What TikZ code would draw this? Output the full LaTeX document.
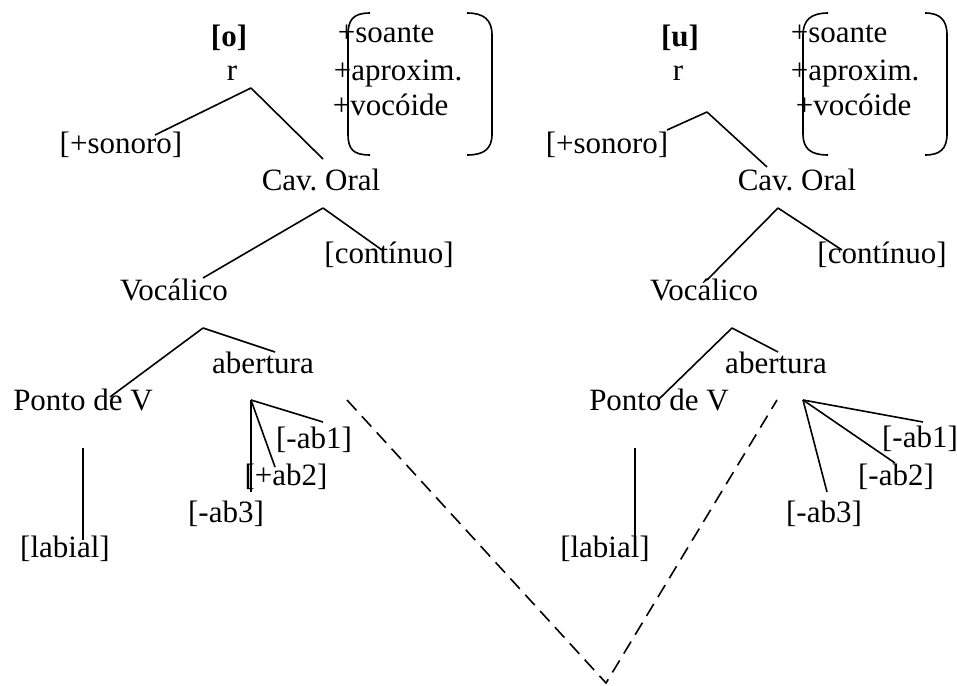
\documentclass[tikz,border=0pt]{standalone}
\usepackage{fontspec}
\setmainfont{Liberation Serif}
\usepackage{tikz}

\begin{document}
\begin{tikzpicture}[x=1pt, y=-1pt, line width=1.6pt,
                        every node/.style={font=\fontsize{31}{37}\selectfont\frenchspacing, inner sep=0pt, anchor=base},
                        lst/.style={anchor=base west},
                        dash line/.style={dash pattern=on 14pt off 8pt}]
                        \useasboundingbox (0,0) rectangle (957,685);

                        \node (o) at (229,47) {\textbf{[o]}};
                        \node (r1) at (232,80) {r};
                        \node (soa1) at (337,43) [lst] {+soante};
                        \node (apr1) at (333,80) [lst] {+aproxim.};
                        \node (voc1) at (332,115) [lst] {+vocóide};
                        \node (son1) at (121,153) {[+sonoro]};
                        \node (cav1) at (321,190) {Cav. Oral};
                        \node (cont1) at (389,263) {[contínuo]};
                        \node (vocal1) at (174,300) {Vocálico};
                        \node (abe1) at (263,373) {abertura};
                        \node (pto1) at (83,410) {Ponto de V};
                        \node (ab11) at (314,448) {[-ab1]};
                        \node (ab21) at (286,485) {[+ab2]};
                        \node (ab31) at (226,522) {[-ab3]};
                        \node (lab1) at (65,557) {[labial]};

                        \node (u) at (680,47) {\textbf{[u]}};
                        \node (r2) at (678,80) {r};
                        \node (soa2) at (790,43) [lst] {+soante};
                        \node (apr2) at (790,80) [lst] {+aproxim.};
                        \node (voc2) at (795,115) [lst] {+vocóide};
                        \node (son2) at (607,153) {[+sonoro]};
                        \node (cav2) at (797,190) {Cav. Oral};
                        \node (cont2) at (882,263) {[contínuo]};
                        \node (vocal2) at (704,300) {Vocálico};
                        \node (abe2) at (776,373) {abertura};
                        \node (pto2) at (659,410) {Ponto de V};
                        \node (ab12) at (920,447) {[-ab1]};
                        \node (ab22) at (896,485) {[-ab2]};
                        \node (ab32) at (824,522) {[-ab3]};
                        \node (lab2) at (605,557) {[labial]};

                        \coordinate (r1top) at (251,88);
                        \coordinate (son1end) at (155,135);
                        \coordinate (cav1end) at (323,159);
                        \coordinate (cav1top) at (323,208);
                        \coordinate (vocal1end) at (203,278);
                        \coordinate (cont1end) at (382,250);
                        \coordinate (vocal1top) at (203,328);
                        \coordinate (pto1end) at (110,397);
                        \coordinate (abe1end) at (275,352);
                        \coordinate (abe1top) at (251,400);
                        \coordinate (ab11end) at (323,422);
                        \coordinate (ab21end) at (275,467);
                        \coordinate (ab31end) at (251,492);
                        \coordinate (lab1top) at (83,448);
                        \coordinate (lab1end) at (83,540);

                        \coordinate (r2top) at (707,112);
                        \coordinate (son2end) at (667,130);
                        \coordinate (cav2end) at (767,167);
                        \coordinate (cav2top) at (778,208);
                        \coordinate (vocal2end) at (707,280);
                        \coordinate (cont2end) at (842,250);
                        \coordinate (vocal2top) at (732,328);
                        \coordinate (pto2end) at (658,400);
                        \coordinate (abe2end) at (778,352);
                        \coordinate (abe2top) at (803,400);
                        \coordinate (ab12end) at (923,422);
                        \coordinate (ab22end) at (895,463);
                        \coordinate (ab32end) at (827,492);
                        \coordinate (lab2top) at (635,448);
                        \coordinate (lab2end) at (635,540);

                        \coordinate (d1) at (347,400);
                        \coordinate (d2) at (606,683);
                        \coordinate (d3) at (777,400);

                        \path	[-]	(r1top)	edge	(son1end)
                        edge	(cav1end)
                        (cav1top)	edge	(vocal1end)
                        edge	(cont1end)
                        (vocal1top)	edge	(pto1end)
                        edge	(abe1end)
                        (abe1top)	edge	(ab11end)
                        edge	(ab21end)
                        edge	(ab31end)
                        (lab1top)	edge	(lab1end);

                        \path	[-]	(r2top)	edge	(son2end)
                        edge	(cav2end)
                        (cav2top)	edge	(vocal2end)
                        edge	(cont2end)
                        (vocal2top)	edge	(pto2end)
                        edge	(abe2end)
                        (abe2top)	edge	(ab12end)
                        edge	(ab22end)
                        edge	(ab32end)
                        (lab2top)	edge	(lab2end);

                        \draw	[dash line]	(d1) -- (d2) -- (d3);

                        \draw (370,13) .. controls (353,13) and (348,20) .. (348,35) -- (348,134) .. controls (348,149) and (353,155) .. (370,155);
                        \draw (467,13) .. controls (484,13) and (492,20) .. (492,35) -- (492,134) .. controls (492,149) and (484,155) .. (467,155);
                        \draw (828,13) .. controls (811,13) and (803,20) .. (803,35) -- (803,134) .. controls (803,149) and (811,155) .. (828,155);
                        \draw (925,13) .. controls (940,13) and (947,20) .. (947,35) -- (947,134) .. controls (947,149) and (940,155) .. (925,155);
                    \end{tikzpicture}
\end{document}
